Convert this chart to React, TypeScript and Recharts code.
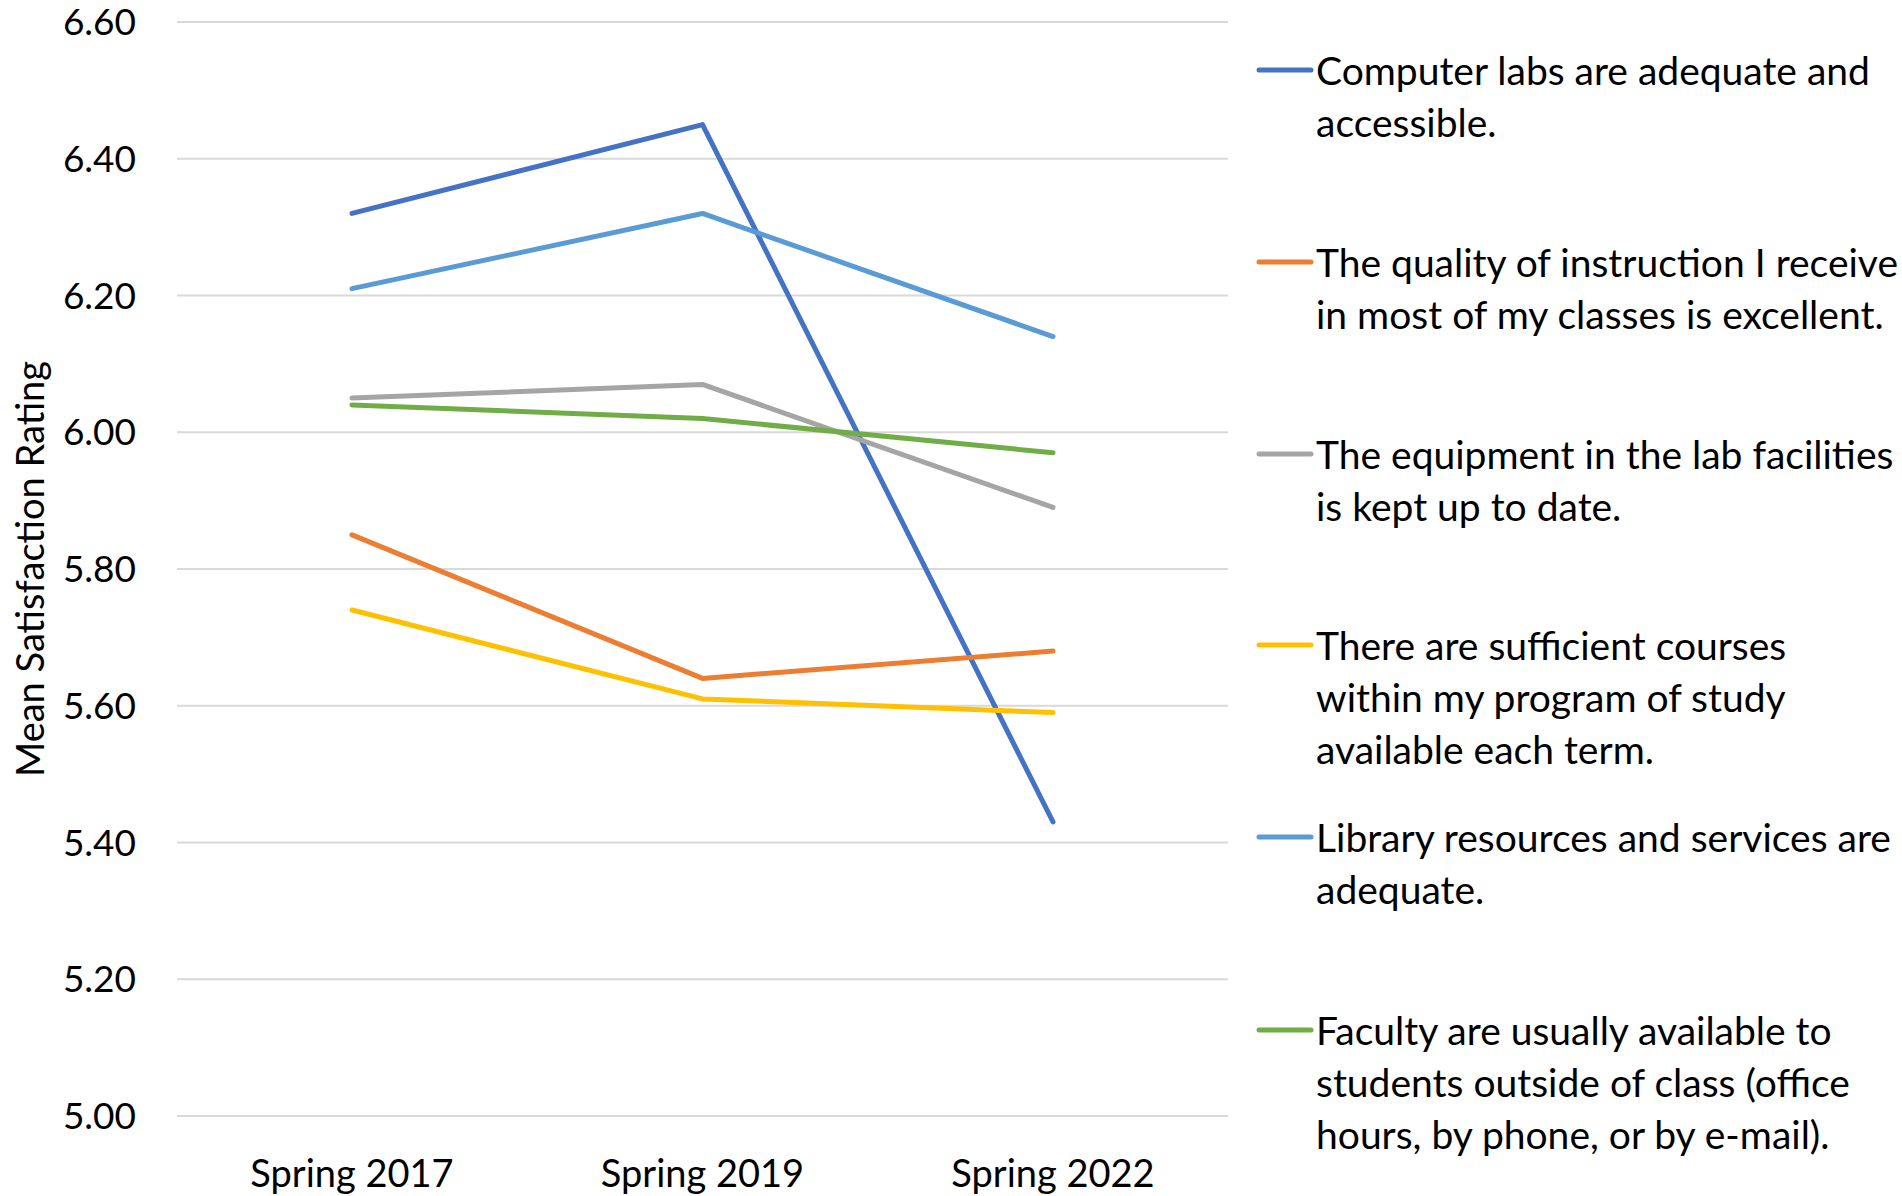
import React from 'react';
import { LineChart, Line, XAxis, YAxis, CartesianGrid } from 'recharts';

const categories = ['Spring 2017', 'Spring 2019', 'Spring 2022'];
const computerLabs = [6.32, 6.45, 5.43];
const instruction = [5.85, 5.64, 5.68];
const equipment = [6.05, 6.07, 5.89];
const courses = [5.74, 5.61, 5.59];
const library = [6.21, 6.32, 6.14];
const faculty = [6.04, 6.02, 5.97];
const yTicks = [5.0, 5.2, 5.4, 5.6, 5.8, 6.0, 6.2, 6.4, 6.6];

const seriesNames = [
  'Computer labs are adequate and accessible.',
  'The quality of instruction I receive in most of my classes is excellent.',
  'The equipment in the lab facilities is kept up to date.',
  'There are sufficient courses within my program of study available each term.',
  'Library resources and services are adequate.',
  'Faculty are usually available to students outside of class (office hours, by phone, or by e-mail).',
];
const legendLines = [
  ['Computer labs are adequate and', 'accessible.'],
  ['The quality of instruction I receive', 'in most of my classes is excellent.'],
  ['The equipment in the lab facilities', 'is kept up to date.'],
  ['There are sufficient courses', 'within my program of study', 'available each term.'],
  ['Library resources and services are', 'adequate.'],
  ['Faculty are usually available to', 'students outside of class (office', 'hours, by phone, or by e-mail).'],
];
const seriesKeys = ['computerLabs', 'instruction', 'equipment', 'courses', 'library', 'faculty'];
const seriesValues = [computerLabs, instruction, equipment, courses, library, faculty];
const colors = ['#4472C4', '#ED7D31', '#A5A5A5', '#FFC000', '#5B9BD5', '#70AD47'];

const data = categories.map((c, i) => {
  const row: Record<string, any> = { category: c };
  seriesKeys.forEach((k, s) => {
    row[k] = seriesValues[s][i];
  });
  return row;
});

const FONT = 'Lato, "Open Sans", sans-serif';
const legendTops = [70, 262, 454, 645, 837, 1030];

const YLabel = (props: any) => {
  const vb = props.viewBox || {};
  const cy = vb.y + vb.height / 2;
  const cx = 29;
  return (
    <text
      x={cx}
      y={cy}
      transform={`rotate(-90, ${cx}, ${cy})`}
      textAnchor="middle"
      dominantBaseline="central"
      fontSize={38}
      fontFamily={FONT}
      fill="#000"
    >
      Mean Satisfaction Rating
    </text>
  );
};

export default function App() {
  return (
    <div style={{ position: 'relative', width: 1902, height: 1196, background: '#fff', fontFamily: FONT }}>
      <style>{'body{margin:0;}'}</style>
      <LineChart
        width={1902}
        height={1196}
        data={data}
        margin={{ top: 22, right: 674, bottom: 0, left: 0 }}
        style={{ overflow: 'visible' }}
      >
        <CartesianGrid vertical={false} stroke="#D9D9D9" strokeWidth={2} />
        <XAxis
          dataKey="category"
          axisLine={false}
          tickLine={false}
          tickSize={0}
          tickMargin={44}
          height={80}
          padding={{ left: 175, right: 175 }}
          tick={{ fontSize: 38, fontFamily: FONT, fill: '#000' }}
          interval={0}
        />
        <YAxis
          domain={[5, 6.6]}
          ticks={yTicks}
          width={177}
          axisLine={false}
          tickLine={false}
          tickSize={0}
          tickMargin={41}
          tickFormatter={(v: number) => v.toFixed(2)}
          tick={{ fontSize: 37, fontFamily: FONT, fill: '#000' }}
          label={<YLabel />}
          allowDataOverflow
        />
        {seriesKeys.map((k, i) => (
          <Line
            key={k}
            dataKey={k}
            name={seriesNames[i]}
            stroke={colors[i]}
            strokeWidth={5}
            strokeLinecap="round"
            strokeLinejoin="round"
            dot={false}
            activeDot={false}
            type="linear"
            isAnimationActive={false}
          />
        ))}
      </LineChart>
      {legendLines.map((lines, i) => (
        <div
          key={i}
          style={{
            position: 'absolute',
            left: 1256,
            top: legendTops[i] - 26,
            display: 'flex',
            alignItems: 'flex-start',
          }}
        >
          <svg width={60} height={52} style={{ flex: 'none' }}>
            <line x1={3} y1={26} x2={55} y2={26} stroke={colors[i]} strokeWidth={5} strokeLinecap="round" />
          </svg>
          <div style={{ fontSize: 39, lineHeight: '52px', color: '#000', whiteSpace: 'nowrap' }}>
            {lines.map((l, j) => (
              <div key={j}>{l}</div>
            ))}
          </div>
        </div>
      ))}
    </div>
  );
}
